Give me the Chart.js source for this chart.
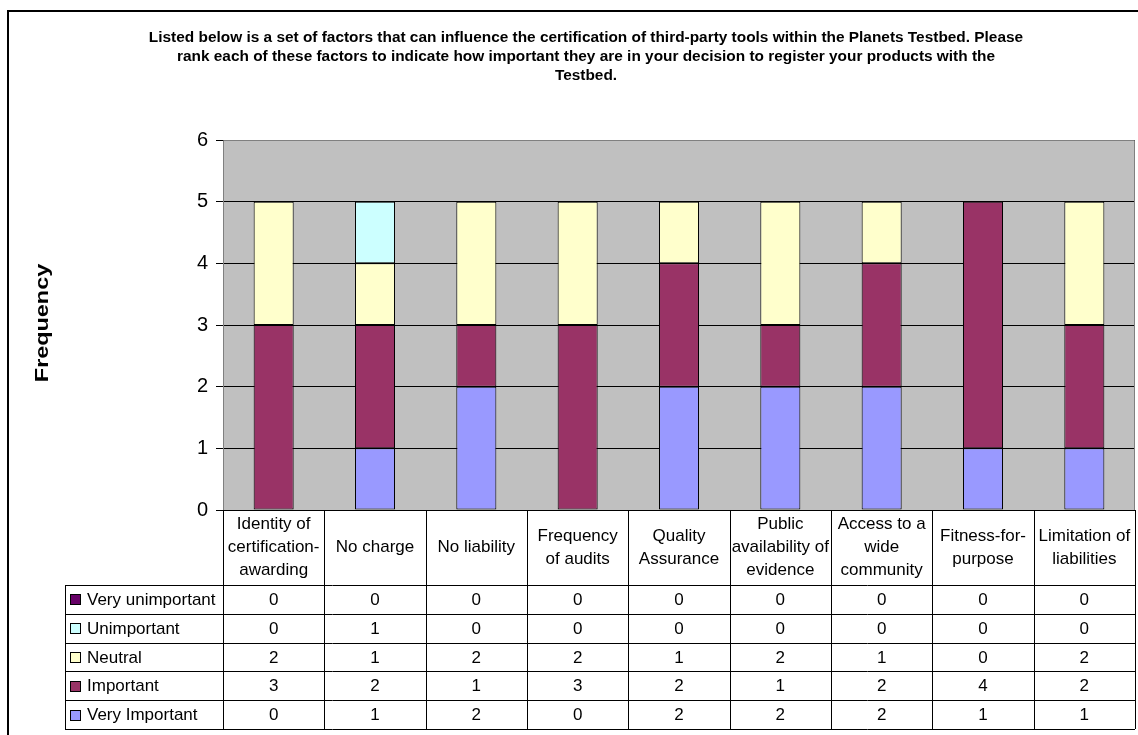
<!DOCTYPE html>
<html>
<head>
<meta charset="utf-8">
<script src="https://cdn.jsdelivr.net/npm/chart.js@4.4.1/dist/chart.umd.min.js"></script>
<style>
  html, body { margin: 0; padding: 0; background: #fff; }
  #wrap { width: 1138px; height: 735px; position: relative; }
</style>
</head>
<body>
<div id="wrap"><canvas id="chart"></canvas></div>
<script>
// categories (wrapped the same way the table header shows them)
const categories = [
  ["Identity of", "certification-", "awarding"],
  ["No charge"],
  ["No liability"],
  ["Frequency", "of audits"],
  ["Quality", "Assurance"],
  ["Public", "availability of", "evidence"],
  ["Access to a", "wide", "community"],
  ["Fitness-for-", "purpose"],
  ["Limitation of", "liabilities"]
];
// answer counts per category
const veryImportant = [0, 1, 2, 0, 2, 2, 2, 1, 1];
const important = [3, 2, 1, 3, 2, 1, 2, 4, 2];
const neutral = [2, 1, 2, 2, 1, 2, 1, 0, 2];
const unimportant = [0, 1, 0, 0, 0, 0, 0, 0, 0];
const veryUnimportant = [0, 0, 0, 0, 0, 0, 0, 0, 0];

const seriesNames = ["Very Important", "Important", "Neutral", "Unimportant", "Very unimportant"];
const seriesValues = [veryImportant, important, neutral, unimportant, veryUnimportant];
const seriesColors = ["#9999FF", "#993366", "#FFFFCC", "#CCFFFF", "#660066"];

const titleLines = [
  "Listed below is a set of factors that can influence the certification of third-party tools within the Planets Testbed. Please",
  "rank each of these factors to indicate how important they are in your decision to register your products with the",
  "Testbed."
];
const yTitle = "Frequency";

const FONT = "'Liberation Sans', Arial, Helvetica, sans-serif";

//text drawn a bit wider than the font, like the old spreadsheet output
function wideText(ctx, text, x, y, stretch, angle) {
  ctx.save();
  ctx.translate(x, y);
  if (angle) ctx.rotate(angle);
  ctx.scale(stretch, 1);
  ctx.fillText(text, 0, 0);
  ctx.restore();
}

//grey plot background, frame, titles
const backdrop = {
  id: "backdrop",
  beforeDraw(chart) {
    const { ctx, chartArea: a } = chart;
    ctx.save();
    ctx.fillStyle = "#C0C0C0";
    ctx.fillRect(a.left, a.top, a.right - a.left, a.bottom - a.top);
    ctx.strokeStyle = "#000";
    ctx.lineWidth = 2;
    ctx.strokeRect(8, 11, 1300, 900);

    ctx.fillStyle = "#000";
    ctx.textAlign = "center";
    ctx.textBaseline = "middle";
    ctx.font = "bold 14px " + FONT;
    titleLines.forEach((t, i) => wideText(ctx, t, 586, 38 + i * 19, 1.1, 0));
    ctx.font = "bold 18px " + FONT;
    wideText(ctx, yTitle, 43, (a.top + a.bottom) / 2 - 2, 1.3, -Math.PI / 2);
    ctx.restore();
  },
  afterDatasetsDraw(chart) {
    const { ctx, chartArea: a } = chart;
    ctx.save();
    ctx.strokeStyle = "#808080";
    ctx.lineWidth = 1;
    ctx.beginPath();
    ctx.moveTo(a.left + 0.5, a.bottom);
    ctx.lineTo(a.left + 0.5, a.top + 0.5);
    ctx.lineTo(a.right - 0.5, a.top + 0.5);
    ctx.lineTo(a.right - 0.5, a.bottom);
    ctx.stroke();
    ctx.strokeStyle = "#000";
    ctx.beginPath();
    ctx.moveTo(a.left, a.bottom + 0.5);
    ctx.lineTo(a.right, a.bottom + 0.5);
    ctx.stroke();
    ctx.restore();
  }
};

//data table under the plot, columns follow the x scale
const dataTable = {
  id: "dataTable",
  afterDraw(chart) {
    const { ctx, chartArea: a } = chart;
    const x = chart.scales.x;
    const n = categories.length;
    const colW = (a.right - a.left) / n;
    const headTop = a.bottom;
    const headBottom = headTop + 75;
    const rowH = 28.8;
    const nRows = seriesNames.length;
    const tableBottom = headBottom + rowH * nRows;
    const legendLeft = 65;

    ctx.save();
    ctx.strokeStyle = "#000";
    ctx.lineWidth = 1;
    ctx.beginPath();
    // vertical lines
    for (let i = 0; i <= n; i++) {
      const px = Math.round(a.left + i * colW) + 0.5;
      ctx.moveTo(px, headTop);
      ctx.lineTo(px, tableBottom);
    }
    ctx.moveTo(legendLeft + 0.5, headBottom);
    ctx.lineTo(legendLeft + 0.5, tableBottom);
    // horizontal lines
    for (let r = 0; r <= nRows; r++) {
      const py = Math.round(headBottom + r * rowH) + 0.5;
      ctx.moveTo(legendLeft, py);
      ctx.lineTo(a.right, py);
    }
    ctx.stroke();

    ctx.fillStyle = "#000";
    ctx.font = "17px " + FONT;
    ctx.textAlign = "center";
    ctx.textBaseline = "middle";
    // header labels
    categories.forEach((lines, i) => {
      const cx = x.getPixelForValue(i);
      const mid = (headTop + headBottom) / 2;
      lines.forEach((t, k) => {
        ctx.fillText(t, cx, mid + (k - (lines.length - 1) / 2) * 23);
      });
    });
    // rows: top row is the last series
    for (let r = 0; r < nRows; r++) {
      const s = nRows - 1 - r;
      const cy = headBottom + r * rowH + rowH / 2 + 1;
      ctx.textAlign = "center";
      ctx.fillStyle = "#000";
      seriesValues[s].forEach((v, i) => {
        ctx.fillText(String(v), x.getPixelForValue(i), cy);
      });
      ctx.fillStyle = seriesColors[s];
      ctx.fillRect(70, Math.round(cy - 6), 11, 11);
      ctx.strokeRect(70.5, Math.round(cy - 6) + 0.5, 10, 10);
      ctx.fillStyle = "#000";
      ctx.textAlign = "left";
      ctx.fillText(seriesNames[s], 87, cy);
    }
    ctx.restore();
  }
};

new Chart(document.getElementById("chart"), {
  type: "bar",
  plugins: [backdrop, dataTable],
  data: {
    labels: categories,
    datasets: seriesNames.map((name, i) => ({
      label: name,
      data: seriesValues[i],
      backgroundColor: seriesColors[i],
      borderColor: "#000",
      borderWidth: 1,
      borderSkipped: false,
      barPercentage: 0.395,
      categoryPercentage: 1
    }))
  },
  options: {
    responsive: true,
    maintainAspectRatio: false,
    animation: false,
    layout: { padding: { left: 37, right: 3, top: 140, bottom: 225 } },
    plugins: {
      legend: { display: false },
      tooltip: { enabled: false },
      title: { display: false }
    },
    scales: {
      x: {
        stacked: true,
        display: false
      },
      y: {
        stacked: true,
        min: 0,
        max: 6,
        ticks: {
          stepSize: 1,
          color: "#000",
          padding: 8,
          font: { family: FONT, size: 20 }
        },
        grid: {
          color: "#000",
          lineWidth: 1,
          tickLength: 7,
          tickColor: "#000",
          drawOnChartArea: true
        },
        border: { display: false },
        afterFit(scale) {
          scale.width = 223 - 37;
        }
      }
    }
  }
});
</script>
</body>
</html>
